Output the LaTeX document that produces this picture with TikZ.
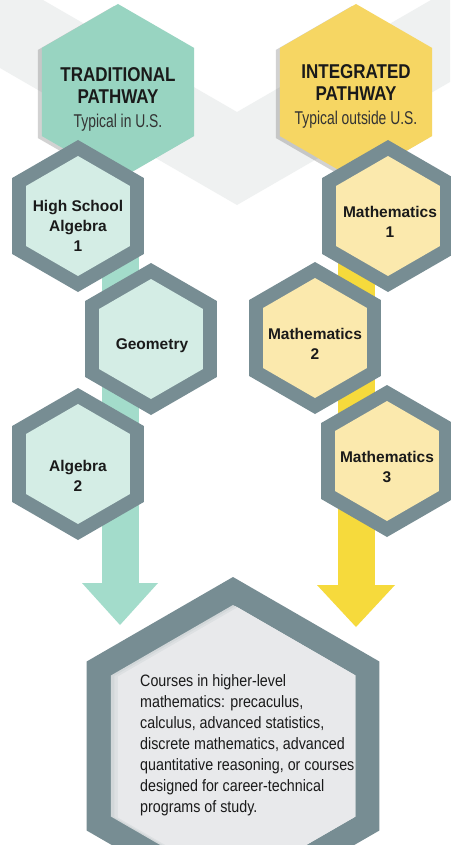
\documentclass[tikz,border=0pt]{standalone}
\usepackage{fontspec}
\setmainfont{Liberation Sans}
\newfontfamily\hdrfont{Liberation Sans}[FakeStretch=0.85]
\newfontfamily\litefont{Liberation Sans}[FakeStretch=0.75]
\newfontfamily\bodyfont{Liberation Sans}[FakeStretch=0.865]
\usetikzlibrary{shapes.geometric,shadows,calc}
\definecolor{bandc}{HTML}{EFF1F1}
\definecolor{tealh}{HTML}{98D4C1}
\definecolor{yelh}{HTML}{F6D663}
\definecolor{ringc}{HTML}{778D93}
\definecolor{innert}{HTML}{D4EDE5}
\definecolor{innery}{HTML}{FBE9AD}
\definecolor{innerg}{HTML}{E8E9EB}
\definecolor{shadeg}{HTML}{D2D7D9}
\definecolor{shadeg2}{HTML}{DDE0E2}
\definecolor{tealar}{HTML}{A3DCCB}
\definecolor{yelar}{HTML}{F6DA3C}
\definecolor{txt}{HTML}{1A1A1A}
\definecolor{txtl}{HTML}{333333}
\pgfdeclarelayer{back}
\pgfdeclarelayer{mid}
\pgfsetlayers{back,mid,main}
\tikzset{
  hexa/.style={regular polygon, regular polygon sides=6, shape border rotate=30, inner sep=0pt, draw=none},
  hexring/.style={hexa, fill=ringc, minimum size=152pt},
  inteal/.style={hexa, fill=innert, minimum size=120pt},
  inyel/.style={hexa, fill=innery, minimum size=120pt},
  header/.style={hexa, minimum size=176pt, drop shadow={shadow xshift=-4pt, shadow yshift=-2pt, opacity=.25, fill=black!70}},
  lbl/.style={font=\fontsize{15.5}{20}\selectfont\bfseries, align=center, anchor=north, inner sep=0pt, text=txt},
  hdrtxt/.style={font=\hdrfont\bfseries\fontsize{20}{22}\selectfont, align=center, anchor=north, inner sep=0pt, text=txt},
  bodytxt/.style={font=\bodyfont\fontsize{16.5}{21}\selectfont, align=left, anchor=north west, inner sep=0pt, text=txt},
  bar/.style={line width=37pt}
}
\begin{document}
\begin{tikzpicture}[x=1pt,y=-1pt]
\useasboundingbox (0,0) rectangle (450,845);
\begin{pgfonlayer}{back}
  \fill[white] (0,0) rectangle (450,845);
  \fill[bandc] (0,0) -- (43,0) -- (237,112) -- (431,0) -- (450,0) -- (450,82) -- (237,205) -- (0,68) -- cycle;
  \node[header, fill=tealh] (trad) at (118,92) {};
  \node[header, fill=yelh] (integ) at (356,92) {};
\end{pgfonlayer}

\node[hdrtxt] (tradt) at (118,67.6) {TRADITIONAL\\PATHWAY\\[2pt]{\litefont\mdseries\fontsize{18.5}{22}\selectfont\color{txtl}Typical in U.S.}};
\node[hdrtxt] (integt) at (356,64.6) {INTEGRATED\\PATHWAY\\[2pt]{\litefont\mdseries\fontsize{18.5}{22}\selectfont\color{txtl}Typical outside U.S.}};

% course hexagons
\node[hexring] (hs) at (78,216) {};
\node[inteal] (hsin) at (hs.center) {};
\node[hexring] (geo) at (151,339) {};
\node[inteal] (geoin) at (geo.center) {};
\node[hexring] (alg) at (78,464) {};
\node[inteal] (algin) at (alg.center) {};
\node[hexring] (ma) at (388,216) {};
\node[inyel] (main) at (ma.center) {};
\node[hexring] (mb) at (315,338) {};
\node[inyel] (mbin) at (mb.center) {};
\node[hexring] (mc) at (387,461) {};
\node[inyel] (mcin) at (mc.center) {};

\node[lbl] (hst) at (78,200) {High School\\Algebra\\1};
\node[lbl] (geot) at (152,338) {Geometry};
\node[lbl] (algt) at (78,460) {Algebra\\2};
\node[lbl] (mat) at (390,206) {Mathematics\\1};
\node[lbl] (mbt) at (315,328) {Mathematics\\2};
\node[lbl] (mct) at (387,451) {Mathematics\\3};

% arrows
\coordinate (tealtip) at (120,625);
\coordinate (yeltip) at (356,627);
\begin{pgfonlayer}{mid}
  \draw[bar, tealar] (tealtip |- hs.center) -- ($(tealtip)+(0,-41)$);
  \fill[tealar] ($(tealtip)+(-38,-42)$) -- ($(tealtip)+(38,-42)$) -- (tealtip) -- cycle;
  \draw[bar, yelar] (yeltip |- ma.center) -- ($(yeltip)+(0,-41)$);
  \fill[yelar] ($(yeltip)+(-39,-42)$) -- ($(yeltip)+(39,-42)$) -- (yeltip) -- cycle;
\end{pgfonlayer}

% bottom hexagon
\node[hexa, fill=ringc, minimum size=338pt] (bot) at (233,746) {};
\node[hexa, fill=shadeg, minimum size=282pt] (botin) at (bot.center) {};
\begin{scope}
  \clip (botin.corner 1) -- (botin.corner 2) -- (botin.corner 3) -- (botin.corner 4) -- (botin.corner 5) -- (botin.corner 6) -- cycle;
  \node[hexa, fill=shadeg2, minimum size=282pt] (botsh) at ($(bot.center)+(3.5,0.5)$) {};
  \node[hexa, fill=innerg, minimum size=282pt] (botfill) at ($(bot.center)+(7,1)$) {};
\end{scope}
\node[bodytxt] (bott) at (140,674) {Courses in higher-level\\mathematics: precaculus,\\calculus, advanced statistics,\\discrete mathematics, advanced\\quantitative reasoning, or courses\\designed for career-technical\\programs of study.};
\end{tikzpicture}
\end{document}
